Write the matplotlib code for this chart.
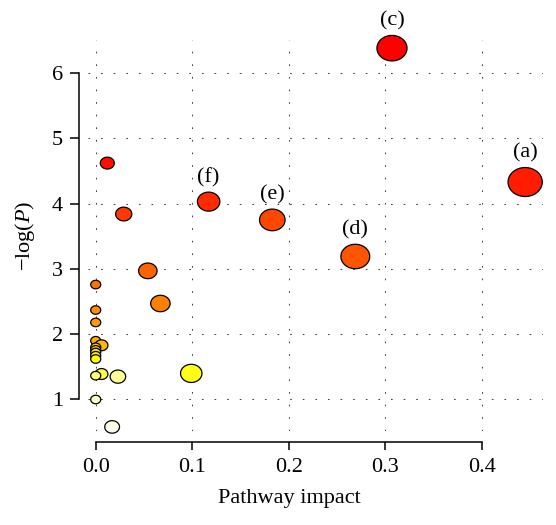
import matplotlib
matplotlib.use('Agg')
import matplotlib.pyplot as plt
import numpy as np
import colorsys
from matplotlib.path import Path

# ---- data ----
impact = [0.307, 0.012, 0.445, 0.117, 0.029, 0.183, 0.269, 0.054, 0.0, 0.067,
          0.0, 0.0, 0.0, 0.006, 0.0, 0.0, 0.0, 0.0, 0.0, 0.099,
          0.006, 0.0, 0.023, 0.0, 0.017]
neg_log_p = [6.38, 4.62, 4.33, 4.03, 3.84, 3.75, 3.19, 2.97, 2.76, 2.47,
             2.37, 2.18, 1.90, 1.83, 1.80, 1.76, 1.72, 1.67, 1.62, 1.40,
             1.39, 1.365, 1.35, 1.00, 0.58]
point_labels = ['(c)', '', '(a)', '(f)', '', '(e)', '(d)', '', '', '',
                '', '', '', '', '', '', '', '', '', '',
                '', '', '', '', '']
x_ticks = [0.0, 0.1, 0.2, 0.3, 0.4]
x_tick_labels = ['0.0', '0.1', '0.2', '0.3', '0.4']
y_ticks = [1, 2, 3, 4, 5, 6]
y_tick_labels = ['1', '2', '3', '4', '5', '6']

plt.rcParams['font.family'] = ['Liberation Serif', 'DejaVu Serif']
plt.rcParams['mathtext.fontset'] = 'custom'
plt.rcParams['mathtext.rm'] = 'Liberation Serif'
plt.rcParams['mathtext.it'] = 'Liberation Serif:italic'


def heat_colors(n):
    k = n // 4
    j = n - k
    cols = [colorsys.hsv_to_rgb(h, 1, 1) for h in np.linspace(0, 1 / 6, j)]
    if k > 0:
        cols += [colorsys.hsv_to_rgb(1 / 6, s, 1)
                 for s in np.linspace(1 - 1 / (2 * k), 1 / (2 * k), k)]
    return cols


x = np.array(impact)
y = np.array(neg_log_p)
n = len(x)
pal = heat_colors(n)
order = np.argsort(-y, kind='stable')
colors = [None] * n
for rank, idx in enumerate(order):
    colors[idx] = pal[rank]

# bubble size scale (height in px) from impact
PX2PT = 0.72
ASPECT = 1.18
h_px = 8.5 + 30.7 * np.sqrt(x)
sizes = (ASPECT * h_px * PX2PT) ** 2

theta = np.linspace(0, 2 * np.pi, 120)
ell = Path(np.column_stack([ASPECT * np.cos(theta), np.sin(theta)]), closed=True)

W, H = 556, 525
fig = plt.figure(figsize=(W / 100, H / 100), dpi=100)
ax = fig.add_axes([88 / W, 1 - 431 / H, (543 - 88) / W, (431 - 40) / H])

ax.set_xlim(-0.008, 0.4635)
ax.set_ylim(0.5176, 6.505)

ax.scatter(x, y, s=sizes, c=colors, marker=ell, edgecolors='black',
           linewidths=0.9, zorder=3, clip_on=False)

for xi, yi, lab, hp in zip(x, y, point_labels, h_px):
    if lab:
        ax.annotate(lab, (xi, yi), xytext=(0, (hp / 2 + 14.5) * PX2PT),
                    textcoords='offset points', ha='center', va='center',
                    fontsize=16, annotation_clip=False, zorder=4)

ax.set_xticks(x_ticks)
ax.set_xticklabels(x_tick_labels)
ax.set_yticks(y_ticks)
ax.set_yticklabels(y_tick_labels)

ax.set_axisbelow(True)
ax.grid(True, linestyle=(0, (1.6, 10.5)), color='#444444', linewidth=0.75)

for s in ['top', 'right']:
    ax.spines[s].set_visible(False)
ax.spines['left'].set_position(('outward', 9 * PX2PT))
ax.spines['left'].set_bounds(1, 6)
ax.spines['bottom'].set_position(('outward', 10.7 * PX2PT))
ax.spines['bottom'].set_bounds(0, 0.4)
for s in ['left', 'bottom']:
    ax.spines[s].set_linewidth(1.1)

ax.tick_params(axis='y', direction='out', length=9 * PX2PT, width=1.1,
               labelsize=16, pad=5)
ax.tick_params(axis='x', direction='out', length=8 * PX2PT, width=1.1,
               labelsize=16, pad=6)

fig.text(289 / W, 1 - 498 / H, 'Pathway impact', ha='center', va='center',
         fontsize=16)
fig.text(25 / W, 1 - 236 / H, r'$-\mathrm{log}(P)$', ha='center', va='center',
         rotation=90, fontsize=16)

fig.savefig('out.png', dpi=100)
